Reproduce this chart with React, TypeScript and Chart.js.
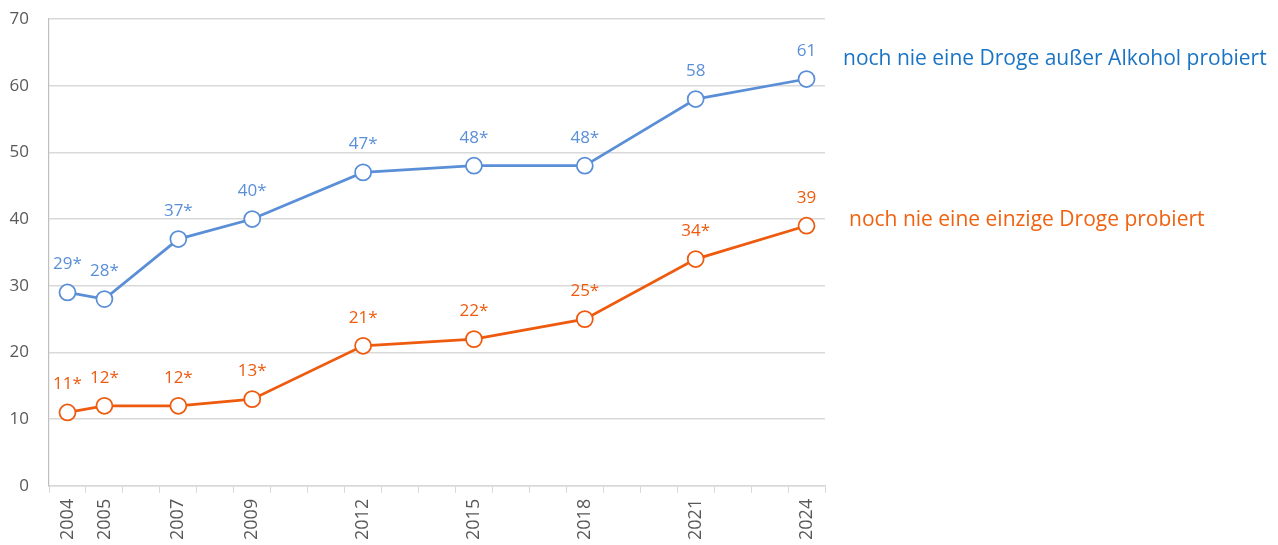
import React, { useEffect, useRef } from "react";
import { Chart, registerables } from "chart.js";

Chart.register(...registerables);

const years = [2004, 2005, 2007, 2009, 2012, 2015, 2018, 2021, 2024];
const neverExceptAlcohol = [29, 28, 37, 40, 47, 48, 48, 58, 61];
const neverAny = [11, 12, 12, 13, 21, 22, 25, 34, 39];
const neverExceptAlcoholLabels = ["29*", "28*", "37*", "40*", "47*", "48*", "48*", "58", "61"];
const neverAnyLabels = ["11*", "12*", "12*", "13*", "21*", "22*", "25*", "34*", "39"];
const seriesNames = [
  "noch nie eine Droge außer Alkohol probiert",
  "noch nie eine einzige Droge probiert",
];

const BLUE = "#5a8fd8";
const ORANGE = "#ee5a0e";
const BLUE_TEXT = "#1a74c4";
const ORANGE_TEXT = "#f0620f";
const FONT = "'Open Sans', 'DejaVu Sans', sans-serif";

const dataLabelPlugin = {
  id: "dataLabels",
  afterDatasetsDraw(chart: any) {
    const ctx = chart.ctx;
    ctx.save();
    ctx.font = `17px ${FONT}`;
    ctx.textAlign = "center";
    ctx.textBaseline = "middle";
    chart.data.datasets.forEach((ds: any, i: number) => {
      const meta = chart.getDatasetMeta(i);
      ctx.fillStyle = ds.borderColor;
      meta.data.forEach((pt: any, j: number) => {
        ctx.fillText(ds.labelsText[j], pt.x, pt.y - 28);
      });
    });
    ctx.restore();
  },
};

const sideLegendPlugin = {
  id: "sideLegend",
  afterDraw(chart: any) {
    const ctx = chart.ctx;
    const area = chart.chartArea;
    ctx.save();
    ctx.font = `21px ${FONT}`;
    ctx.textAlign = "left";
    ctx.textBaseline = "middle";
    ctx.fillStyle = BLUE_TEXT;
    ctx.fillText(seriesNames[0], area.right + 18, 59);
    ctx.fillStyle = ORANGE_TEXT;
    ctx.fillText(seriesNames[1], area.right + 24, 220);
    ctx.restore();
  },
};

export default function App() {
  const ref = useRef<HTMLCanvasElement | null>(null);

  useEffect(() => {
    if (!ref.current) return;
    const chart = new Chart(ref.current, {
      type: "line",
      data: {
        datasets: [
          {
            label: seriesNames[0],
            data: years.map((y, i) => ({ x: y, y: neverExceptAlcohol[i] })),
            borderColor: BLUE,
            backgroundColor: "#ffffff",
            borderWidth: 2.75,
            pointRadius: 8,
            pointBorderWidth: 1.75,
            pointBackgroundColor: "#ffffff",
            pointBorderColor: BLUE,
            labelsText: neverExceptAlcoholLabels,
          } as any,
          {
            label: seriesNames[1],
            data: years.map((y, i) => ({ x: y, y: neverAny[i] })),
            borderColor: ORANGE,
            backgroundColor: "#ffffff",
            borderWidth: 2.75,
            pointRadius: 8,
            pointBorderWidth: 1.75,
            pointBackgroundColor: "#ffffff",
            pointBorderColor: ORANGE,
            labelsText: neverAnyLabels,
          } as any,
        ],
      },
      options: {
        animation: false,
        responsive: false,
        layout: { padding: { left: 0, right: 453, top: 19, bottom: -1 } },
        plugins: {
          legend: { display: false },
          tooltip: { enabled: false },
        },
        scales: {
          x: {
            type: "linear",
            min: 2003.5,
            max: 2024.5,
            afterBuildTicks: (scale: any) => {
              const t: any[] = [];
              for (let v = 2003.5; v <= 2024.5 + 1e-9; v += 0.5) t.push({ value: v });
              scale.ticks = t;
            },
            ticks: {
              autoSkip: false,
              minRotation: 90,
              maxRotation: 90,
              padding: 6,
              color: "#595959",
              font: { family: FONT, size: 18 },
              callback: (v: any) => (years.includes(v) ? String(v) : ""),
            },
            grid: {
              drawOnChartArea: false,
              drawTicks: true,
              tickLength: 7,
              color: (c: any) =>
                c.tick && Math.abs(c.tick.value % 1) > 0.1 ? "#d9d9d9" : "rgba(0,0,0,0)",
            },
            border: { display: true, color: "#d9d9d9", width: 1.5 },
          },
          y: {
            min: 0,
            max: 70,
            afterFit: (s: any) => {
              s.width = 49;
            },
            ticks: {
              stepSize: 10,
              padding: 0,
              color: "#595959",
              font: { family: FONT, size: 17 },
            },
            grid: {
              color: "#d9d9d9",
              lineWidth: 1.5,
              drawTicks: true,
              tickLength: 20,
              tickColor: "rgba(0,0,0,0)",
            },
            border: { display: true, color: "#bfbfbf", width: 1.2 },
          },
        },
      } as any,
      plugins: [dataLabelPlugin, sideLegendPlugin],
    });
    return () => chart.destroy();
  }, []);

  return (
    <div style={{ position: "absolute", left: 0, top: 0, width: 1278, height: 545, background: "#fff" }}>
      <canvas ref={ref} width={1278} height={545} style={{ display: "block" }} />
    </div>
  );
}
